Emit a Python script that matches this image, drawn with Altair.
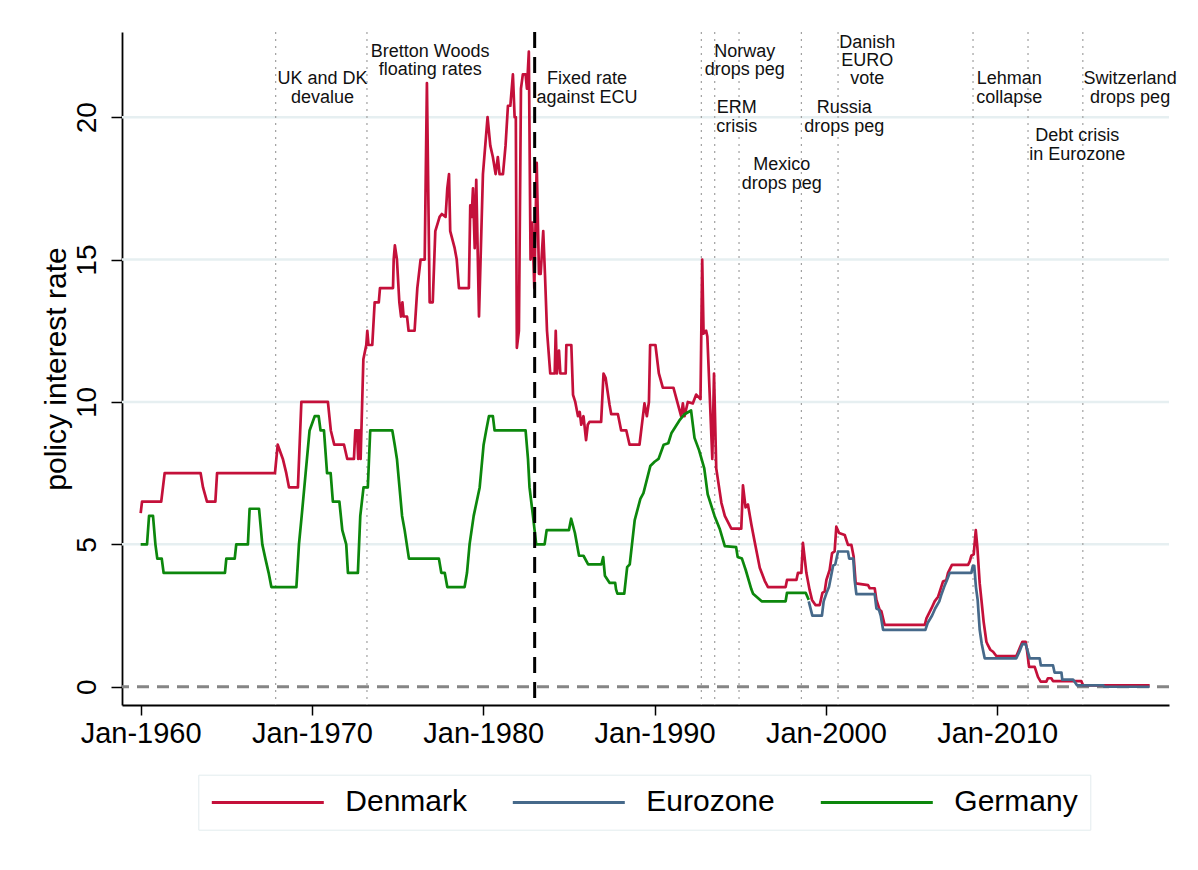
import altair as alt
import pandas as pd

# ---------------- data ----------------
dk_year = [1960.00, 1960.08, 1961.20, 1961.40, 1963.50, 1963.64, 1963.87, 1964.36, 1964.46,
           1967.84, 1968.00, 1968.30, 1968.50, 1968.66, 1969.18, 1969.38, 1970.93, 1971.10,
           1971.30, 1971.87, 1972.06, 1972.45, 1972.53, 1972.63, 1972.70, 1972.75, 1972.84,
           1973.00, 1973.17, 1973.23, 1973.30, 1973.52, 1973.66, 1973.90, 1973.97, 1974.73,
           1974.77, 1974.84, 1974.96, 1975.10, 1975.20, 1975.28, 1975.35, 1975.55, 1975.64,
           1975.99, 1976.15, 1976.34, 1976.58, 1976.71, 1976.87, 1977.05, 1977.20, 1977.35,
           1977.45, 1977.58, 1977.80, 1977.90, 1978.00, 1978.07, 1978.33, 1978.45, 1978.58,
           1979.16, 1979.24, 1979.32, 1979.40, 1979.50, 1979.59, 1979.75, 1979.98, 1980.25,
           1980.41, 1980.56, 1980.72, 1980.85, 1980.95, 1981.15, 1981.30, 1981.44, 1981.58,
           1981.73, 1981.83, 1981.90, 1981.96, 1982.08, 1982.20, 1982.31, 1982.47, 1982.55,
           1982.66, 1982.76, 1982.86, 1982.98, 1983.12, 1983.25, 1983.35, 1983.50, 1983.60,
           1983.72, 1983.91, 1984.17, 1984.23, 1984.30, 1984.42, 1984.50, 1984.81, 1984.85,
           1985.14, 1985.24, 1985.37, 1985.53, 1985.63, 1985.72, 1985.85, 1986.00, 1986.10,
           1986.20, 1986.88, 1987.02, 1987.14, 1987.37, 1987.47, 1987.86, 1988.05, 1988.35,
           1988.54, 1989.12, 1989.32, 1989.41, 1989.55, 1989.67, 1989.74, 1990.05, 1990.25,
           1990.48, 1991.10, 1991.55, 1991.65, 1991.75, 1991.94, 1992.23, 1992.43, 1992.68,
           1992.78, 1992.86, 1993.01, 1993.08, 1993.37, 1993.47, 1993.60, 1993.90, 1994.10,
           1994.48, 1995.06, 1995.16, 1995.31, 1995.45, 1995.65, 1995.84, 1996.14, 1996.43,
           1996.62, 1997.65, 1997.73, 1998.28, 1998.37, 1998.57, 1998.66, 1998.86, 1999.05,
           1999.19, 1999.39, 1999.64, 1999.80, 1999.93, 2000.03, 2000.22, 2000.36, 2000.51,
           2000.61, 2000.77, 2001.10, 2001.29, 2001.49, 2001.62, 2001.74, 2002.46, 2002.56,
           2002.85, 2002.95, 2003.14, 2003.24, 2003.43, 2005.77, 2005.87, 2006.16, 2006.35,
           2006.55, 2006.84, 2007.03, 2007.13, 2007.36, 2008.30, 2008.40, 2008.49, 2008.63,
           2008.75, 2008.84, 2008.98, 2009.08, 2009.21, 2009.37, 2009.46, 2009.60, 2009.76,
           2009.95, 2011.12, 2011.31, 2011.47, 2011.66, 2011.74, 2011.86, 2012.19, 2012.38,
           2012.54, 2012.87, 2012.96, 2013.16, 2013.26, 2014.91, 2015.01, 2018.90]
dk_rate = [6.1, 6.5, 6.5, 7.5, 7.5, 7.0, 6.5, 6.5, 7.5,
           7.5, 8.5, 8.0, 7.5, 7.0, 7.0, 10.0, 10.0, 9.0,
           8.5, 8.5, 8.0, 8.0, 9.0, 9.0, 8.0, 9.0, 8.0,
           11.5, 12.0, 12.5, 12.0, 12.0, 13.5, 13.5, 14.0, 14.0,
           15.0, 15.5, 15.0, 13.5, 13.0, 13.5, 13.0, 13.0, 12.5,
           12.5, 14.0, 15.0, 15.0, 21.2, 13.5, 13.5, 16.0, 16.3,
           16.5, 16.6, 16.5, 17.5, 18.0, 16.0, 15.4, 15.0, 14.0,
           14.0, 16.9, 16.5, 17.5, 15.4, 17.8, 13.0, 18.0, 20.0,
           19.0, 18.6, 18.0, 18.6, 18.0, 18.0, 19.0, 20.4, 20.4,
           21.5, 20.0, 20.0, 11.9, 12.5, 21.0, 21.5, 21.5, 21.0,
           22.3, 15.0, 16.3, 14.0, 18.4, 14.5, 14.5, 16.0, 14.5,
           12.5, 11.0, 11.0, 12.5, 11.0, 11.8, 11.0, 11.0, 12.0,
           12.0, 10.25, 10.0, 9.5, 9.65, 9.2, 9.5, 8.66, 9.2,
           9.3, 9.3, 11.0, 10.85, 9.9, 9.57, 9.57, 9.0, 9.0,
           8.5, 8.5, 9.5, 9.95, 9.5, 10.0, 12.0, 12.0, 11.0,
           10.5, 10.5, 9.5, 9.95, 9.5, 10.0, 9.95, 10.26, 10.1,
           15.0, 12.4, 12.5, 12.3, 8.0, 11.0, 7.67, 6.46, 6.0,
           5.55, 5.55, 7.07, 6.3, 6.4, 5.7, 5.1, 4.18, 3.72,
           3.5, 3.5, 3.75, 3.75, 4.0, 4.0, 5.05, 4.0, 3.4,
           3.05, 2.87, 2.87, 3.3, 3.35, 3.75, 4.1, 4.69, 4.75,
           5.62, 5.4, 5.33, 4.98, 4.98, 4.57, 3.63, 3.57, 3.46,
           3.46, 3.05, 2.7, 2.65, 2.17, 2.17, 2.4, 2.75, 3.0,
           3.16, 3.7, 3.75, 4.0, 4.28, 4.28, 4.4, 4.6, 4.65,
           5.5, 4.92, 3.63, 3.05, 2.28, 1.58, 1.46, 1.3, 1.23,
           1.08, 1.08, 1.35, 1.58, 1.58, 1.29, 0.7, 0.7, 0.35,
           0.18, 0.18, 0.3, 0.3, 0.2, 0.2, 0.05, 0.05]

de_year = [1960.00, 1960.37, 1960.49, 1960.72, 1960.86, 1960.97, 1961.23, 1961.34, 1964.92,
           1965.00, 1965.49, 1965.58, 1966.26, 1966.36, 1966.91, 1967.10, 1967.28, 1967.47,
           1967.63, 1969.09, 1969.24, 1969.40, 1969.63, 1969.86, 1970.16, 1970.39, 1970.50,
           1970.70, 1970.88, 1971.09, 1971.22, 1971.60, 1971.77, 1972.00, 1972.10, 1972.68,
           1972.82, 1973.01, 1973.26, 1973.40, 1974.69, 1974.83, 1974.96, 1975.11, 1975.26,
           1975.41, 1975.66, 1977.41, 1977.55, 1977.75, 1977.90, 1978.91, 1979.05, 1979.20,
           1979.44, 1979.79, 1980.02, 1980.17, 1980.33, 1980.56, 1980.66, 1982.47, 1982.61,
           1982.70, 1982.90, 1983.09, 1983.58, 1983.70, 1985.00, 1985.13, 1985.35, 1985.59,
           1985.85, 1986.12, 1986.90, 1987.00, 1987.10, 1987.37, 1987.70, 1987.75, 1987.83,
           1988.23, 1988.40, 1988.55, 1988.84, 1989.17, 1989.35, 1989.75, 1990.00, 1990.23,
           1990.53, 1990.80, 1990.98, 1991.45, 1991.75, 1992.13, 1992.33, 1992.60, 1992.90,
           1993.10, 1993.50, 1993.80, 1994.10, 1994.76, 1994.85, 1995.10, 1995.32, 1995.65,
           1995.75, 1996.25, 1997.65, 1997.73, 1998.82, 1999.00]
de_rate = [5.0, 5.0, 6.0, 6.0, 5.0, 4.5, 4.5, 4.0, 4.0,
           4.5, 4.5, 5.0, 5.0, 6.25, 6.25, 5.0, 4.5, 4.0,
           3.5, 3.5, 5.0, 6.0, 7.5, 9.0, 9.5, 9.5, 9.0,
           9.0, 7.5, 7.5, 6.5, 6.5, 5.5, 5.0, 4.0, 4.0,
           6.0, 7.0, 7.0, 9.0, 9.0, 8.5, 8.0, 7.0, 6.0,
           5.5, 4.5, 4.5, 4.0, 4.0, 3.5, 3.5, 4.0, 5.0,
           6.0, 7.0, 8.5, 9.0, 9.5, 9.5, 9.0, 9.0, 8.0,
           7.0, 6.0, 5.0, 5.0, 5.5, 5.5, 5.9, 5.4, 4.6,
           4.6, 4.3, 4.3, 4.55, 3.9, 3.65, 3.65, 3.42, 3.27,
           3.27, 4.2, 4.3, 5.85, 6.6, 6.8, 7.75, 7.9, 8.0,
           8.5, 8.55, 8.9, 9.35, 9.57, 9.7, 8.74, 8.3, 7.67,
           6.76, 6.0, 5.55, 4.94, 4.9, 4.56, 4.5, 4.1, 3.42,
           3.27, 3.0, 3.0, 3.3, 3.3, 3.05]

ez_year = [1999.00, 1999.21, 1999.77, 1999.87, 2000.03, 2000.18, 2000.30, 2000.42, 2000.55,
           2000.71, 2001.29, 2001.36, 2001.60, 2001.68, 2001.78, 2002.85, 2002.95, 2003.10,
           2003.20, 2003.34, 2005.81, 2005.95, 2006.20, 2006.38, 2006.62, 2006.75, 2006.90,
           2007.07, 2007.23, 2008.49, 2008.58, 2008.66, 2008.76, 2008.86, 2008.98, 2009.10,
           2009.27, 2011.12, 2011.31, 2011.47, 2011.66, 2011.78, 2011.90, 2012.48, 2012.55,
           2013.26, 2013.35, 2013.75, 2013.80, 2014.43, 2014.55, 2014.66, 2016.20, 2016.25,
           2018.90]
ez_rate = [3.0, 2.5, 2.5, 3.0, 3.28, 3.5, 3.87, 4.25, 4.3,
           4.75, 4.75, 4.5, 4.5, 3.75, 3.25, 3.25, 2.75, 2.7,
           2.5, 2.0, 2.0, 2.25, 2.5, 2.75, 3.0, 3.25, 3.5,
           3.75, 4.0, 4.0, 4.25, 4.25, 3.5, 3.05, 2.0, 1.5,
           1.0, 1.0, 1.25, 1.5, 1.5, 1.25, 1.0, 1.0, 0.75,
           0.75, 0.5, 0.5, 0.25, 0.25, 0.15, 0.05, 0.05, 0.0,
           0.0]

series_names = ["Denmark", "Eurozone", "Germany"]
series_colors = ["#C4103A", "#46698A", "#0C870C"]

event_years = [1967.88, 1973.21, 1992.73, 1993.51, 1994.93, 1998.57, 2000.71, 2008.59, 2011.80, 2015.00]
ecu_year = [1983.00]

note_text = ["UK and DK", "devalue", "Bretton Woods", "floating rates", "Fixed rate", "against ECU",
             "Norway", "drops peg", "ERM", "crisis", "Mexico", "drops peg", "Russia", "drops peg",
             "Danish", "EURO", "vote", "Lehman", "collapse", "Debt crisis", "in Eurozone",
             "Switzerland", "drops peg"]
note_x = [1970.62, 1970.62, 1976.90, 1976.90, 1986.05, 1986.05,
          1995.26, 1995.26, 1994.80, 1994.80, 1997.42, 1997.42, 2001.07, 2001.07,
          2002.42, 2002.42, 2002.42, 2010.70, 2010.70, 2014.67, 2014.67,
          2017.76, 2017.76]
note_y = [21.33, 20.67, 22.30, 21.65, 21.33, 20.67,
          22.30, 21.65, 20.33, 19.67, 18.33, 17.67, 20.33, 19.67,
          22.60, 21.97, 21.33, 21.33, 20.67, 19.33, 18.67,
          21.33, 20.67]

x_ticks = [1960, 1970, 1980, 1990, 2000, 2010]
y_ticks = [0, 5, 10, 15, 20]
grid_vals = [5, 10, 15, 20]

# ---------------- tables ----------------
lines_df = pd.concat([
    pd.DataFrame({"year": dk_year, "rate": dk_rate, "series": "Denmark"}),
    pd.DataFrame({"year": ez_year, "rate": ez_rate, "series": "Eurozone"}),
    pd.DataFrame({"year": de_year, "rate": de_rate, "series": "Germany"}),
], ignore_index=True)
events_df = pd.DataFrame({"year": event_years})
ecu_df = pd.DataFrame({"year": ecu_year})
notes_df = pd.DataFrame({"text": note_text, "year": note_x, "rate": note_y})
grid_df = pd.DataFrame({"rate": grid_vals})
zero_df = pd.DataFrame({"rate": [0]})

FONT = "Liberation Sans"
xscale = alt.Scale(domain=[1958.91, 2020.03], nice=False, zero=False)
yscale = alt.Scale(domain=[-0.64, 22.99], nice=False, zero=False)

grid = alt.Chart(grid_df).mark_rule(color="#E6EFF1", strokeWidth=2.5).encode(
    y=alt.Y("rate:Q", scale=yscale)
)
zero = alt.Chart(zero_df).mark_rule(color="#858585", strokeWidth=3, strokeDash=[12, 8]).encode(
    y=alt.Y("rate:Q", scale=yscale)
)
events = alt.Chart(events_df).mark_rule(color="#A0A0A0", strokeWidth=1.2, strokeDash=[2, 5]).encode(
    x=alt.X("year:Q", scale=xscale)
)
ecu = alt.Chart(ecu_df).mark_rule(color="#000000", strokeWidth=3, strokeDash=[16, 9]).encode(
    x=alt.X("year:Q", scale=xscale)
)

# legend symbol: a long horizontal stroke starting at the entry's left edge
LEG_PATH = "M-1,0H7"

lines = alt.Chart(lines_df).mark_line(strokeWidth=2.7, strokeJoin="round").encode(
    x=alt.X("year:Q", scale=xscale,
            axis=alt.Axis(values=x_ticks, labelExpr="'Jan-' + datum.value", title=None,
                          grid=False, labelFontSize=29, labelFont=FONT, labelColor="#000",
                          tickSize=10, tickWidth=1.5, tickColor="#000", domainColor="#000",
                          domainWidth=1.8, labelPadding=4)),
    y=alt.Y("rate:Q", scale=yscale,
            axis=alt.Axis(values=y_ticks, title="policy interest rate", grid=False,
                          labelFontSize=28, labelFont=FONT, labelColor="#000", labelAngle=270,
                          labelAlign="center", labelBaseline="alphabetic", labelPadding=16,
                          tickSize=11, tickWidth=1.5, tickColor="#000", domainColor="#000",
                          domainWidth=1.8, titleFont=FONT, titleFontSize=30,
                          titleFontWeight="normal", titleColor="#000", titleAngle=270,
                          titleAlign="center", titleBaseline="middle", titleX=-66,
                          titleY=336.5)),
    color=alt.Color("series:N",
                    scale=alt.Scale(domain=series_names, range=series_colors),
                    legend=alt.Legend(title=None, orient="none", legendX=76.3, legendY=742.7,
                                      direction="horizontal", columns=3, symbolType=LEG_PATH,
                                      symbolSize=784, symbolStrokeWidth=3, labelFontSize=30,
                                      labelFont=FONT, labelColor="#000", labelOffset=104,
                                      columnPadding=39, padding=12, strokeColor="#E3ECEE",
                                      fillColor="#FFFFFF", labelLimit=0)),
    order="year:Q",
)

notes = alt.Chart(notes_df).mark_text(font=FONT, fontSize=18, color="#111111",
                                      align="center", baseline="middle").encode(
    x=alt.X("year:Q", scale=xscale),
    y=alt.Y("rate:Q", scale=yscale),
    text="text:N",
)

chart = alt.layer(grid, zero, events, lines, ecu, notes).properties(
    width=1047, height=673,
    autosize=alt.AutoSizeParams(type="none"),
    padding={"left": 114, "top": 24, "right": 21, "bottom": 150},
    background="#FFFFFF",
).configure_view(strokeWidth=0)

chart.save("out.html", embed_options={"renderer": "svg", "actions": False})
